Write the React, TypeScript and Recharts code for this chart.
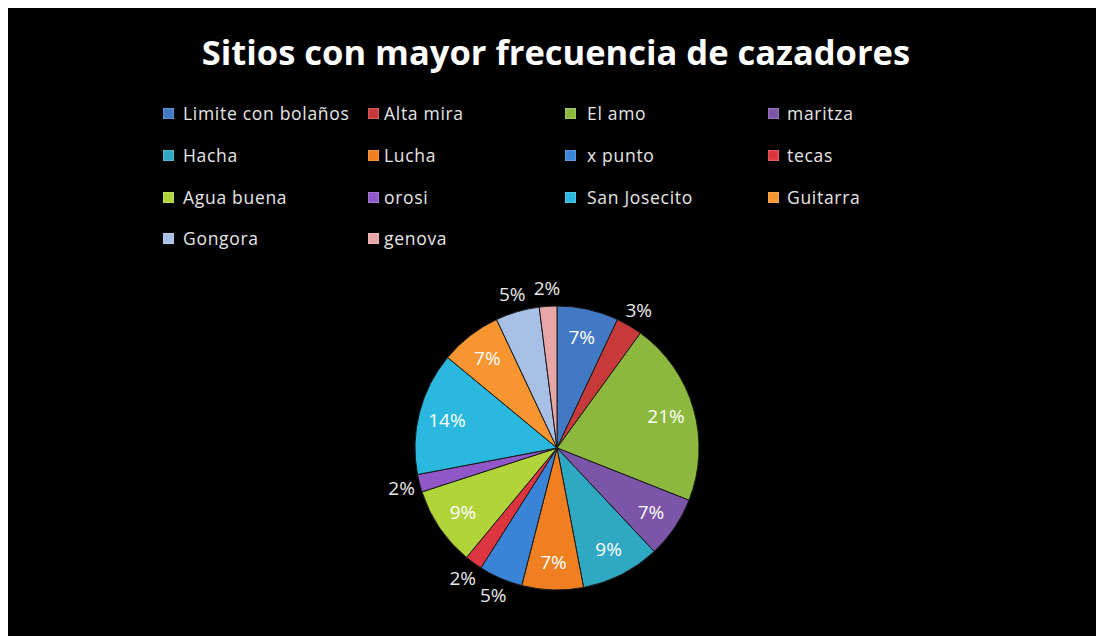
import React from 'react';
import { PieChart, Pie, Cell } from 'recharts';

const categories = [
  'Limite con bolaños', 'Alta mira', 'El amo', 'maritza',
  'Hacha', 'Lucha', 'x punto', 'tecas',
  'Agua buena', 'orosi', 'San Josecito', 'Guitarra',
  'Gongora', 'genova',
];
const values = [7, 3, 21, 7, 9, 7, 5, 2, 9, 2, 14, 7, 5, 2];
const colors = [
  '#4279c4', '#c83a3a', '#8db83e', '#7d55a8',
  '#2fa8c4', '#f07f22', '#3a84d8', '#dd3540',
  '#b0d43a', '#9157c8', '#2bb8df', '#f79530',
  '#a8c0e6', '#e8a6a8',
];
const title = 'Sitios con mayor frecuencia de cazadores';

const data = categories.map((name, i) => ({ name, value: values[i] }));

const W = 1096;
const H = 628;
const FONT = '"Open Sans", Lato, sans-serif';
const RADIAN = Math.PI / 180;

const colX = [155, 360, 557, 760];
const textX = [175, 376, 579, 779];
const rowY = [106, 148, 190, 231];

const LegendBlock = () => (
  <div style={{ position: 'absolute', left: 0, top: 0, width: W, height: 260 }}>
    {categories.map((name, i) => {
      const col = i % 4;
      const row = Math.floor(i / 4);
      return (
        <React.Fragment key={name}>
          <div
            style={{
              position: 'absolute',
              left: colX[col],
              top: rowY[row] - 6,
              width: 11,
              height: 11,
              background: colors[i],
              boxShadow: 'inset 0 0 2px rgba(255,255,255,0.6)',
            }}
          />
          <div
            style={{
              position: 'absolute',
              left: textX[col],
              top: rowY[row] - 12,
              fontFamily: FONT,
              fontSize: 17.5,
              letterSpacing: 0.7,
              lineHeight: '22px',
              color: '#e6e6e6',
              whiteSpace: 'nowrap',
            }}
          >
            {name}
          </div>
        </React.Fragment>
      );
    })}
  </div>
);

const renderLabel = (props: any) => {
  const { cx, cy, midAngle, outerRadius, percent } = props;
  const pct = Math.round(percent * 100);
  const inside = pct >= 7;
  const r = inside ? outerRadius * 0.8 : outerRadius * 1.13;
  const x = cx + r * Math.cos(-midAngle * RADIAN);
  const y = cy + r * Math.sin(-midAngle * RADIAN);
  return (
    <text
      x={x}
      y={y}
      fill={inside ? '#ffffff' : '#e8e8e8'}
      textAnchor="middle"
      dominantBaseline="central"
      fontFamily={FONT}
      fontSize={19}
    >
      {pct + '%'}
    </text>
  );
};

export default function App() {
  return (
    <div style={{ position: 'relative', width: W, height: H, background: '#000' }}>
      <PieChart width={W} height={H} margin={{ top: 0, right: 0, bottom: 0, left: 0 }}>
        <Pie
          data={data}
          dataKey="value"
          nameKey="name"
          cx={549}
          cy={440}
          outerRadius={142}
          startAngle={90}
          endAngle={-270}
          stroke="#1a1a1a"
          strokeWidth={1}
          label={renderLabel}
          labelLine={false}
          isAnimationActive={false}
        >
          {data.map((d, i) => (
            <Cell key={d.name} fill={colors[i]} />
          ))}
        </Pie>
      </PieChart>
      <div
        style={{
          position: 'absolute',
          left: 0,
          top: 20,
          width: W,
          textAlign: 'center',
          fontFamily: FONT,
          fontWeight: 700,
          fontSize: 34.5,
          lineHeight: '48px',
          color: '#ffffff',
        }}
      >
        {title}
      </div>
      <LegendBlock />
    </div>
  );
}
